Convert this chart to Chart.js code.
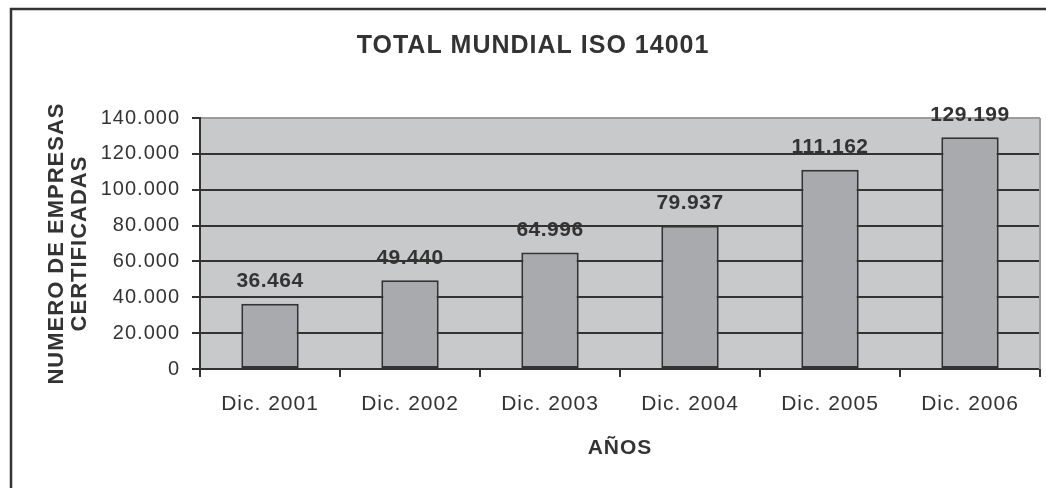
<!DOCTYPE html>
<html>
<head>
<meta charset="utf-8">
<script src="https://cdn.jsdelivr.net/npm/chart.js@4.4.1/dist/chart.umd.min.js"></script>
<style>
  html, body { margin: 0; padding: 0; background: #fff; }
  #c { display: block; }
</style>
</head>
<body>
<canvas id="c" width="1046" height="488"></canvas>
<script>
const categories = ["Dic. 2001", "Dic. 2002", "Dic. 2003", "Dic. 2004", "Dic. 2005", "Dic. 2006"];
const empresas = [36464, 49440, 64996, 79937, 111162, 129199];
const yTicks = [0, 20000, 40000, 60000, 80000, 100000, 120000, 140000];
const chartTitle = "TOTAL MUNDIAL ISO 14001";
const yTitle = ["NUMERO DE EMPRESAS", "CERTIFICADAS"];
const xTitle = "AÑOS";

const FONT = "'Liberation Sans', Arial, sans-serif";
const INK = "#333333";

function fmt(v) {
  if (v === 0) return "0";
  const s = String(Math.round(v));
  return s.replace(/\B(?=(\d{3})+(?!\d))/g, ".");
}

const framePlugin = {
  id: "frame",
  beforeLayout(chart) { chart.ctx.letterSpacing = "1px"; },
  beforeDraw(chart) {
    const ctx = chart.ctx;
    ctx.letterSpacing = "1px";
    const a = chart.chartArea;
    ctx.save();
    ctx.fillStyle = "#ffffff";
    ctx.fillRect(0, 0, chart.width, chart.height);
    ctx.strokeStyle = INK;
    ctx.lineWidth = 2.5;
    ctx.strokeRect(11, 9, 1200, 800);
    ctx.fillStyle = "#c8c9cb";
    ctx.fillRect(a.left, a.top, a.right - a.left, a.bottom - a.top);
    ctx.restore();
  },
  beforeDatasetsDraw(chart) {
    const ctx = chart.ctx;
    const a = chart.chartArea;
    ctx.save();
    ctx.strokeStyle = "#9a9b9d";
    ctx.lineWidth = 2;
    ctx.beginPath();
    ctx.moveTo(a.right, a.top);
    ctx.lineTo(a.right, a.bottom);
    ctx.stroke();
    ctx.restore();
  },
  afterDatasetsDraw(chart) {
    const ctx = chart.ctx;
    const meta = chart.getDatasetMeta(0);
    ctx.save();
    ctx.letterSpacing = "0.5px";
    ctx.font = "bold 21px " + FONT;
    ctx.fillStyle = INK;
    ctx.textAlign = "center";
    ctx.textBaseline = "middle";
    meta.data.forEach((bar, i) => {
      ctx.fillText(fmt(empresas[i]), bar.x, bar.y - 22);
    });
    ctx.restore();
  }
};

new Chart(document.getElementById("c"), {
  type: "bar",
  data: {
    labels: categories,
    datasets: [{
      data: empresas,
      backgroundColor: "#a9aaad",
      borderColor: INK,
      borderWidth: 2,
      borderSkipped: false,
      barPercentage: 0.41,
      categoryPercentage: 1.0
    }]
  },
  options: {
    responsive: false,
    animation: false,
    devicePixelRatio: 1,
    layout: { padding: { left: 26, right: 6, top: 0, bottom: 0 } },
    plugins: {
      legend: { display: false },
      tooltip: { enabled: false },
      title: {
        display: true,
        text: chartTitle,
        color: INK,
        font: { family: FONT, size: 25, weight: "bold", lineHeight: 1.2 },
        padding: { top: 31, bottom: 57 }
      }
    },
    scales: {
      x: {
        afterFit(s) { s.height = 119; },
        border: { display: true, color: INK, width: 2 },
        grid: { display: true, drawOnChartArea: false, drawTicks: true, tickLength: 8, color: INK, tickColor: INK, lineWidth: 2, offset: true },
        ticks: { color: INK, font: { family: FONT, size: 21, lineHeight: 1.2 }, padding: 15 },
        title: {
          display: true,
          text: xTitle,
          color: INK,
          font: { family: FONT, size: 21, weight: "bold", lineHeight: 1.2 },
          padding: { top: 0, bottom: 27 }
        }
      },
      y: {
        min: 0,
        max: 140000,
        afterFit(s) { s.width = 174; },
        afterBuildTicks(s) { s.ticks = yTicks.map(v => ({ value: v })); },
        border: { display: true, color: INK, width: 2 },
        grid: {
          color: (c) => (c.tick && c.tick.value === 140000) ? "#9a9b9d" : INK,
          lineWidth: 2,
          tickColor: INK,
          tickLength: 8,
          drawTicks: true
        },
        ticks: {
          color: INK,
          font: { family: FONT, size: 20 },
          padding: 12,
          callback: (v) => fmt(v)
        },
        title: {
          display: true,
          text: yTitle,
          color: INK,
          font: { family: FONT, size: 22, weight: "bold", lineHeight: 1.05 },
          padding: { top: 19, bottom: 0 }
        }
      }
    }
  },
  plugins: [framePlugin]
});
</script>
</body>
</html>
